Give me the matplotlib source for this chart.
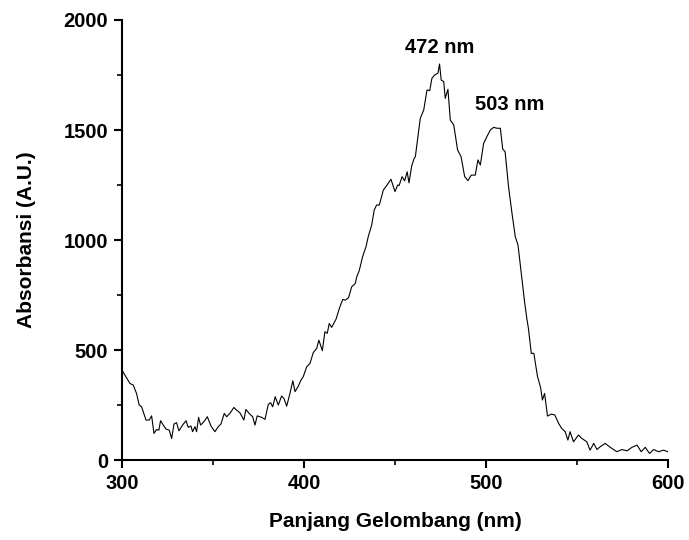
import matplotlib
matplotlib.use("Agg")
import matplotlib.pyplot as plt
from matplotlib.ticker import MultipleLocator

wavelength = [300, 304.4, 306.2, 308, 309.5, 310.8, 313.2, 315, 316.3, 317.6, 319, 320.3, 321.2, 322.7,
              324.2, 326, 327.3, 328.6, 330, 331.3, 333.3, 335.2, 336.4, 337.9, 338.8, 340.1, 341, 342.1,
              343.2, 345, 346.9, 348.9, 351.1, 352.9, 354.4, 356.2, 357.5, 359.3, 361.5, 363, 364.8, 367,
              368.1, 369.9, 371.8, 373.1, 374.3, 376.8, 378.6, 380.4, 381.7, 382.8, 384.2, 385.9, 387.7,
              389, 390.5, 392.3, 393.9, 395.1, 396.9, 398.4, 399.6, 401.5, 403.3, 405.1, 407, 408.2, 410.1,
              411.5, 412.8, 413.9, 415.2, 417.6, 419.6, 421.3, 422.8, 424.5, 426.2, 428.2, 429, 430.4,
              432.2, 434.1, 435.3, 437.2, 438.6, 439.9, 441.4, 443.6, 445.3, 447.8, 450, 451.5, 452.3,
              453.9, 455.3, 456.7, 457.7, 459.2, 460.5, 461.2, 463.9, 465.8, 467.6, 469.1, 470.3, 471.8,
              473.6, 474.5, 475.4, 476.8, 477.6, 479.1, 480.4, 482.3, 484.4, 486.3, 488.3, 490.1, 491.9,
              494.1, 495.6, 496.9, 498.7, 500.5, 502.4, 504.2, 506, 507.9, 509.2, 510.5, 512.4, 514.3,
              516.1, 517.6, 519.8, 521.2, 522.5, 523.3, 524.9, 526.3, 528.3, 530, 531, 532.2, 533.8, 536,
              537.8, 539.9, 541.6, 543.5, 545, 546.2, 548.1, 550.8, 552.6, 555.4, 557.2, 559.2, 561,
              562.8, 565.5, 568.3, 571.9, 574.7, 577.5, 580.2, 583, 585.3, 587.5, 589.9, 592.1, 594.8,
              597.5, 600]
absorbance = [409, 348, 341, 303, 250, 242, 182, 182, 201, 121, 139, 136, 179, 159,
              141, 136, 98, 164, 170, 133, 159, 179, 149, 155, 129, 152, 129, 194,
              159, 174, 197, 155, 129, 152, 164, 212, 197, 212, 239, 227, 215, 182,
              230, 212, 197, 159, 201, 194, 185, 253, 261, 242, 288, 250, 291,
              280, 245, 303, 360, 311, 336, 364, 379, 424, 439, 488, 508, 545, 497,
              583, 576, 621, 603, 640, 693, 730, 727, 738, 787, 803, 833, 862,
              924, 970, 1015, 1068, 1136, 1159, 1159, 1227, 1246, 1276, 1220, 1250, 1248,
              1288, 1269, 1310, 1260, 1337, 1370, 1379, 1553, 1591, 1682, 1679, 1735, 1750,
              1758, 1800, 1727, 1720, 1644, 1685, 1545, 1523, 1409, 1379, 1288, 1270, 1295,
              1295, 1364, 1341, 1439, 1470, 1500, 1512, 1508, 1508, 1413, 1402, 1242, 1121,
              1015, 977, 818, 720, 640, 600, 485, 485, 380, 330, 273, 303, 200, 209,
              205, 167, 144, 129, 91, 129, 83, 114, 99, 83, 45, 76, 48,
              61, 76, 58, 38, 48, 42, 58, 68, 38, 58, 30, 48, 38,
              45, 38]

peak_labels = ["472 nm", "503 nm"]
peak_label_pos = [(474.7, 1877), (513.2, 1618)]

plt.rcParams['font.family'] = ['Liberation Sans', 'DejaVu Sans']

fig = plt.figure(figsize=(6.89, 5.40), dpi=100)
ax = fig.add_axes([0.177, 0.148, 0.7925, 0.815])
ax.plot(wavelength, absorbance, color='black', linewidth=0.8)

ax.set_xlim(300, 600)
ax.set_ylim(0, 2000)
ax.xaxis.set_major_locator(MultipleLocator(100))
ax.xaxis.set_minor_locator(MultipleLocator(50))
ax.yaxis.set_major_locator(MultipleLocator(500))
ax.yaxis.set_minor_locator(MultipleLocator(250))

for s in ['top', 'right']:
    ax.spines[s].set_visible(False)
for s in ['left', 'bottom']:
    ax.spines[s].set_linewidth(1.5)

ax.tick_params(which='major', direction='out', length=6, width=1.5, labelsize=14.5, pad=4)
ax.tick_params(which='minor', direction='out', length=3.5, width=1.2)
for lab in ax.get_xticklabels() + ax.get_yticklabels():
    lab.set_fontweight('bold')

ax.set_xlabel("Panjang Gelombang (nm)", fontsize=15, fontweight='bold', labelpad=14)
ax.set_ylabel("Absorbansi (A.U.)", fontsize=15, fontweight='bold', labelpad=20)

for txt, (xx, yy) in zip(peak_labels, peak_label_pos):
    ax.text(xx, yy, txt, ha='center', va='center', fontsize=14.5, fontweight='bold')

fig.savefig("out.png", dpi=100)
